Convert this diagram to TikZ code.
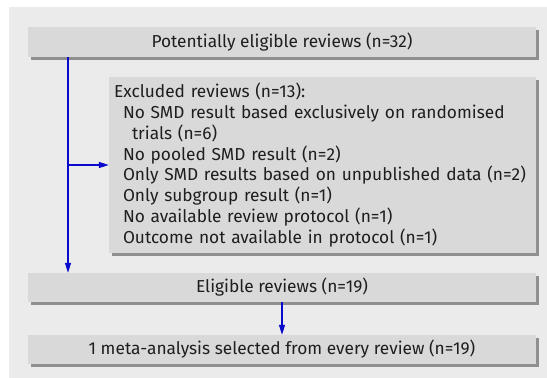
\documentclass[tikz,border=0pt]{standalone}
\usepackage{fontspec}
\setmainfont{Fira Sans}
\usepackage{tikz, xcolor}
\usetikzlibrary{arrows.meta, shadows}

\definecolor{bggray}{HTML}{EBEBEB}
\definecolor{boxgray}{HTML}{D9D9D9}
\definecolor{shadegray}{HTML}{8F8F8F}
\definecolor{textgray}{HTML}{1E1E1E}
\definecolor{flowblue}{HTML}{0A0ACC}

\begin{document}
\begin{tikzpicture}
					[
						x=1pt, y=-1pt,
						box/.style={fill=boxgray, text=textgray, inner sep=0pt,
							minimum width=508pt, minimum height=30pt,
							font=\fontsize{17.3}{20.8}\selectfont,
							drop shadow={shadow xshift=3pt, shadow yshift=-3pt, fill=shadegray, opacity=1}},
						flow/.style={-{Triangle[length=10pt,width=6pt]}, flowblue, line width=1.4pt}
					]
					
					% Draw background.
					\useasboundingbox (0,0) rectangle (547,378);
					\fill[bggray] (9,7) rectangle (547,378);
					
					% Draw boxes.
					\node[box] (potential) at (282,42) {Potentially eligible reviews (n=32)};
					\node[box, minimum width=427pt, minimum height=176pt,
						text width=417pt, inner xsep=5pt, align=left] (excluded) at (322.5,165)
						{Excluded reviews (n=13):\\
						\hspace*{9pt}No SMD result based exclusively on randomised\\
						\hspace*{18pt}trials (n=6)\\
						\hspace*{9pt}No pooled SMD result (n=2)\\
						\hspace*{9pt}Only SMD results based on unpublished data (n=2)\\
						\hspace*{9pt}Only subgroup result (n=1)\\
						\hspace*{9pt}No available review protocol (n=1)\\
						\hspace*{9pt}Outcome not available in protocol (n=1)};
					\node[box, minimum height=29pt] (eligible) at (282,287.5) {Eligible reviews (n=19)};
					\node[box, minimum height=29pt] (selected) at (282,349.5) {1 meta-analysis selected from every review (n=19)};
					
					% Draw arrows.
					\coordinate (trunk) at (68,0);
					\draw[flow] (potential.south -| trunk) -- (eligible.north -| trunk);
					\draw[flow] (excluded.west -| trunk) -- (excluded.west);
					\draw[flow] (eligible) -- (selected);
				\end{tikzpicture}
\end{document}
